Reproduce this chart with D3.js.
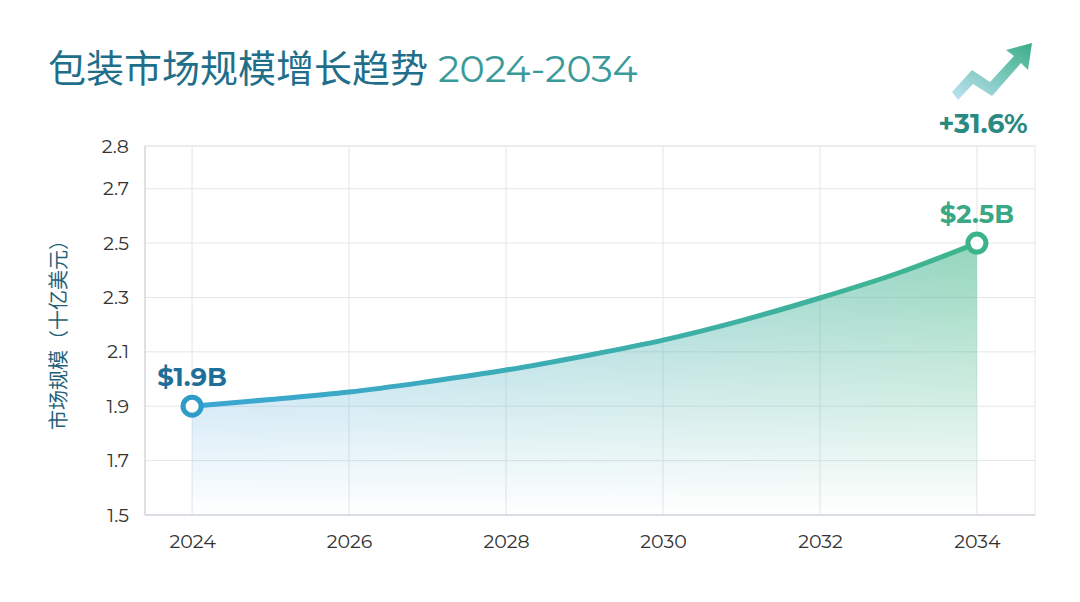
<!DOCTYPE html>
<html><head><meta charset="utf-8">
<script src="https://cdn.jsdelivr.net/npm/d3@7"></script>
<style>body{margin:0;background:#fff;font-family:Montserrat,"Noto Sans","Noto Sans CJK SC",sans-serif}</style>
</head><body><div id="chart"></div>
<script>
var years = [2024,2025,2026,2027,2028,2029,2030,2031,2032,2033,2034];
var values = [1.9,1.925,1.952,1.99,2.033,2.085,2.143,2.215,2.298,2.39,2.5];
var xTicks = [2024,2026,2028,2030,2032,2034];
var yTicks = [1.5,1.7,1.9,2.1,2.3,2.5,2.7,2.857];
var yTickLabels = ["1.5","1.7","1.9","2.1","2.3","2.5","2.7","2.8"];

var W = 1080, H = 602;
var svg = d3.select("#chart").append("svg").attr("width", W).attr("height", H);
var defs = svg.append("defs");

var x = d3.scaleLinear().domain([2023.4, 2034.74]).range([145, 1035]);
var y = d3.scaleLinear().domain([1.5, 2.857]).range([515, 146]);

// gradients
var lg = defs.append("linearGradient").attr("id","lineG").attr("gradientUnits","userSpaceOnUse")
  .attr("x1",x(2024)).attr("x2",x(2034)).attr("y1",0).attr("y2",0);
lg.append("stop").attr("offset","0%").attr("stop-color","#3aa6d4");
lg.append("stop").attr("offset","100%").attr("stop-color","#3fb58c");
var ag = defs.append("linearGradient").attr("id","areaH").attr("gradientUnits","userSpaceOnUse")
  .attr("x1",x(2024)).attr("x2",x(2034)).attr("y1",0).attr("y2",0);
ag.append("stop").attr("offset","0%").attr("stop-color","#5aaee0");
ag.append("stop").attr("offset","100%").attr("stop-color","#4cba8f");
var fade = defs.append("linearGradient").attr("id","fadeV").attr("x1",0).attr("x2",0).attr("y1",0).attr("y2",1);
fade.append("stop").attr("offset","0%").attr("stop-color","#fff").attr("stop-opacity",0.6);
fade.append("stop").attr("offset","100%").attr("stop-color","#fff").attr("stop-opacity",0);
defs.append("mask").attr("id","fadeM").attr("maskUnits","userSpaceOnUse")
  .attr("x",0).attr("y",0).attr("width",W).attr("height",H)
  .append("rect")
  .attr("x",0).attr("y",y(2.5)).attr("width",W).attr("height",515-y(2.5)).attr("fill","url(#fadeV)");
var ig = defs.append("linearGradient").attr("id","iconG").attr("x1",0).attr("x2",1).attr("y1",1).attr("y2",0);
ig.append("stop").attr("offset","0%").attr("stop-color","#bfe3f2");
ig.append("stop").attr("offset","100%").attr("stop-color","#3aae88");

// grid
svg.append("g").selectAll("line").data(yTicks).join("line")
  .attr("x1",145).attr("x2",1035).attr("y1",d=>y(d)).attr("y2",d=>y(d))
  .attr("stroke","#e3e6ea");
svg.append("g").selectAll("line").data(xTicks).join("line")
  .attr("y1",146).attr("y2",515).attr("x1",d=>x(d)).attr("x2",d=>x(d))
  .attr("stroke","#e3e6ea");
svg.append("rect").attr("x",145).attr("y",146).attr("width",890).attr("height",369)
  .attr("fill","none").attr("stroke","#e3e6ea");
svg.append("line").attr("x1",145).attr("x2",1035).attr("y1",515).attr("y2",515).attr("stroke","#c9ced4");
svg.append("line").attr("x1",145).attr("x2",145).attr("y1",146).attr("y2",515).attr("stroke","#c9ced4");

// axes
var yAxis = svg.append("g").attr("transform","translate(145,0)")
  .call(d3.axisLeft(y).tickValues(yTicks).tickSize(0).tickPadding(16).tickFormat((d,i)=>yTickLabels[i]));
var xAxis = svg.append("g").attr("transform","translate(0,515)")
  .call(d3.axisBottom(x).tickValues(xTicks).tickSize(0).tickPadding(20).tickFormat(d3.format("d")));
[yAxis,xAxis].forEach(a=>{a.select(".domain").remove();
  a.selectAll("text").attr("font-size",19).attr("fill","#333").attr("font-family","Montserrat,'Noto Sans',sans-serif");});

svg.append("text").attr("transform","translate(66,330) rotate(-90)").attr("text-anchor","middle")
  .attr("font-size",20).attr("fill","#1f5f7a").text("市场规模（十亿美元）");

// area + line
var pts = years.map((d,i)=>[d,values[i]]);
var area = d3.area().x(d=>x(d[0])).y0(515).y1(d=>y(d[1])).curve(d3.curveMonotoneX);
svg.append("path").datum(pts).attr("d",area).attr("fill","url(#areaH)").attr("mask","url(#fadeM)");
var line = d3.line().x(d=>x(d[0])).y(d=>y(d[1])).curve(d3.curveMonotoneX);
svg.append("path").datum(pts).attr("d",line).attr("fill","none")
  .attr("stroke","url(#lineG)").attr("stroke-width",5).attr("stroke-linecap","round");

// endpoints
var ends = [{yr:years[0],v:values[0],c:"#2f9bc9",lab:"$1.9B",tc:"#1f6f9a"},
            {yr:years[10],v:values[10],c:"#3db38a",lab:"$2.5B",tc:"#3aa884"}];
ends.forEach(e=>{
  svg.append("circle").attr("cx",x(e.yr)).attr("cy",y(e.v)).attr("r",9)
    .attr("fill","#fff").attr("stroke",e.c).attr("stroke-width",5);
  svg.append("text").attr("x",x(e.yr)).attr("y",y(e.v)-20).attr("text-anchor","middle")
    .attr("font-size",26).attr("font-weight",700).attr("fill",e.tc).text(e.lab);
});

// title
svg.append("text").attr("x",48).attr("y",82).attr("font-size",38).attr("fill","#1f6f8a")
  .text("包装市场规模增长趋势 ").append("tspan").attr("fill","#3a9a9a")
  .attr("font-family","Montserrat,'Noto Sans',sans-serif").text("2024-2034");

// icon
svg.append("path").attr("d","M952,92 L972,70 L990,82 L1014,56 L1006,50 L1032,43 L1028,70 L1021,63 L992,96 L973,84 L958,100 Z")
  .attr("fill","url(#iconG)");
svg.append("text").attr("x",983).attr("y",133).attr("text-anchor","middle")
  .attr("font-size",27).attr("font-weight",700).attr("fill","#2a8a82").text("+31.6%");
</script></body></html>
